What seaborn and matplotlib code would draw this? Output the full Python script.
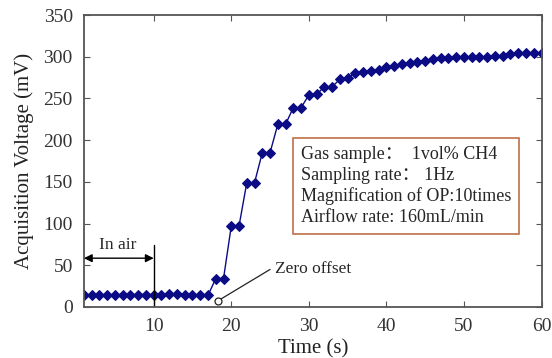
import matplotlib
matplotlib.use("Agg")
import matplotlib.pyplot as plt
import seaborn as sns
import pandas as pd

time_s = list(range(1, 61))
voltage_mv = [14, 14, 14, 14, 14, 14, 14, 14, 14, 14,
              14, 15.5, 15.5, 14, 14, 14, 14, 34, 34, 97,
              97, 149, 149, 185, 185, 219, 219, 239, 239, 254,
              255, 264, 264, 273, 274, 281, 282, 283, 284, 288,
              289, 291, 292, 294, 295, 297, 298, 299, 299.5, 300,
              300, 300, 300, 301, 301, 303, 304, 304, 304, 304]

info_lines = ["Gas sample\uff1a  1vol% CH4",
              "Sampling rate\uff1a 1Hz",
              "Magnification of OP:10times",
              "Airflow rate: 160mL/min"]

sns.set_style("ticks")
plt.rcParams['font.family'] = ['Liberation Serif', 'Noto Sans CJK SC', 'DejaVu Sans']

df = pd.DataFrame({"Time (s)": time_s, "Acquisition Voltage (mV)": voltage_mv})

fig = plt.figure(figsize=(5.52, 3.58), dpi=100)
ax = fig.add_axes([0.152, 0.1425, 0.829, 0.8155])

navy = "#0b0b85"
sns.lineplot(data=df, x="Time (s)", y="Acquisition Voltage (mV)", ax=ax,
             color=navy, lw=1.0, marker="D", markersize=5.5,
             markeredgecolor=navy, markerfacecolor=navy)

ax.set_xlim(1, 60)
ax.set_ylim(0, 350)
ax.set_xticks([10, 20, 30, 40, 50, 60])
ax.set_yticks(range(0, 351, 50))
ax.tick_params(direction="in", length=4, width=0.8, colors="#555555",
               labelcolor="#333333", labelsize=14, top=True, right=True, pad=8)
for s in ax.spines.values():
    s.set_color("#555555")
    s.set_linewidth(1.3)
ax.set_xlabel("Time (s)", fontsize=15, color="#222222", labelpad=3)
ax.set_ylabel("Acquisition Voltage (mV)", fontsize=15, color="#222222", labelpad=7)

# In air
ax.annotate("", xy=(1, 58.5), xytext=(10, 58.5),
            arrowprops=dict(arrowstyle="<|-|>", color="black", lw=1.0,
                            shrinkA=0, shrinkB=0, mutation_scale=12))
ax.plot([10, 10], [0, 74], color="black", lw=1.0)
ax.text(5.4, 65, "In air", ha="center", va="bottom", fontsize=12.5)

# Zero offset
ax.plot([18.3, 25.0], [7.5, 45], color="#222222", lw=0.9)
ax.plot([18.3], [7.5], marker="o", markersize=5, markerfacecolor="white",
        markeredgecolor="#222222", markeredgewidth=0.9, clip_on=False)
ax.text(25.6, 46, "Zero offset", ha="left", va="center", fontsize=12.5)

# Info box
ax.text(29.0, 145, "\n".join(info_lines), ha="left", va="center", fontsize=13,
        linespacing=1.28,
        bbox=dict(boxstyle="square,pad=0.42", facecolor="white",
                  edgecolor="#c0704a", linewidth=1.2))

fig.savefig("out.png", dpi=100)
